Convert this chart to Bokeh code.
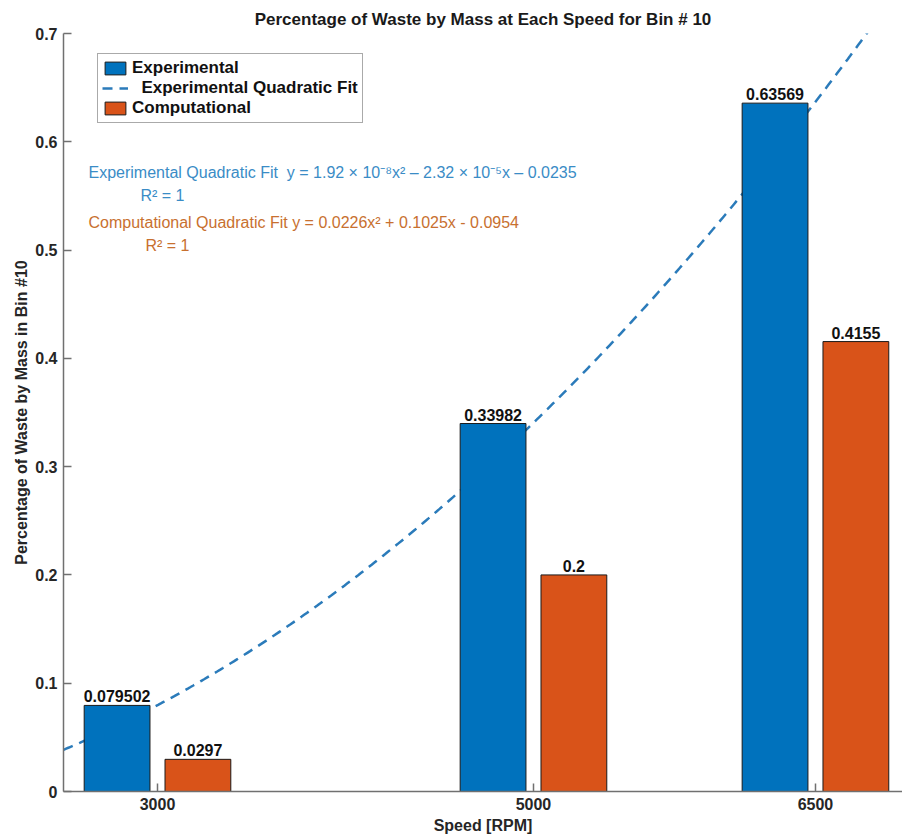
from bokeh.plotting import figure
from bokeh.models import Range1d, Legend, LegendItem, ColumnDataSource, FixedTicker, Label
from bokeh.embed import file_html
from bokeh.resources import INLINE
from bokeh.core.properties import value
import numpy as np

# Data
speeds = [3000, 5000, 6500]
tick_labels = ["3000", "5000", "6500"]
experimental = [0.079502, 0.33982, 0.63569]
computational = [0.0297, 0.2, 0.4155]
# quadratic fit to the experimental series: a*x^2 + b*x + c
exp_fit_coeffs = [1.92e-8, -2.32e-5, -0.0235]

BLUE = "#0072BD"
ORANGE = "#D95319"
FONT = "Liberation Sans"

bar_width = 350
offset = 215

p = figure(width=902, height=839, x_range=Range1d(2500, 6963), y_range=Range1d(0, 0.7),
           output_backend="svg", toolbar_location=None,
           min_border_left=63, min_border_right=0, min_border_top=33, min_border_bottom=48)
p.outline_line_color = None
p.xgrid.visible = False
p.ygrid.visible = False

src = ColumnDataSource(dict(
    x_exp=[s - offset for s in speeds],
    x_comp=[s + offset for s in speeds],
    exp=experimental,
    comp=computational,
    exp_lbl=[format(v, ".5g") for v in experimental],
    comp_lbl=[format(v, ".5g") for v in computational],
))

# fitted curve (drawn first so the bars sit on top of it)
xs = np.linspace(2500, 6800, 300)
a, b, c = exp_fit_coeffs
ys = a * xs**2 + b * xs + c
r_fit = p.line(xs, ys, line_color="#2b7bba", line_width=2.5, line_dash="10 7")

r_exp = p.vbar(x="x_exp", top="exp", width=bar_width, source=src,
               fill_color=BLUE, line_color="#1a1a1a", line_width=1)
r_comp = p.vbar(x="x_comp", top="comp", width=bar_width, source=src,
                fill_color=ORANGE, line_color="#1a1a1a", line_width=1)

# bar value labels
for xcol, ycol, lcol in (("x_exp", "exp", "exp_lbl"), ("x_comp", "comp", "comp_lbl")):
    p.text(x=xcol, y=ycol, text=lcol, source=src, text_align="center",
           text_baseline="bottom", y_offset=-3, text_font=value(FONT),
           text_font_style="bold", text_font_size="16px", text_color="#111111")

# axes
for ax in (p.xaxis, p.yaxis):
    ax.axis_line_color = "#707070"
    ax.axis_line_width = 1.5
    ax.major_tick_line_color = "#707070"
    ax.major_tick_line_width = 1.5
    ax.major_tick_in = 8
    ax.major_tick_out = 0
    ax.minor_tick_line_color = None
    ax.major_label_text_font = FONT
    ax.major_label_text_font_style = "bold"
    ax.major_label_text_font_size = "16px"
    ax.major_label_text_color = "#262626"
    ax.axis_label_text_font = FONT
    ax.axis_label_text_font_style = "bold"
    ax.axis_label_text_font_size = "16px"
    ax.axis_label_text_color = "#262626"

p.xaxis.ticker = FixedTicker(ticks=speeds)
p.xaxis.major_label_overrides = {s: t for s, t in zip(speeds, tick_labels)}
p.xaxis.axis_label = "Speed [RPM]"
p.xaxis.major_label_standoff = 6
p.xaxis.axis_label_standoff = 4

p.yaxis.ticker = FixedTicker(ticks=[0, 0.1, 0.2, 0.3, 0.4, 0.5, 0.6, 0.7])
p.yaxis.major_label_overrides = {0: "0"}
p.yaxis.axis_label = "Percentage of Waste by Mass in Bin #10"
p.yaxis.major_label_standoff = 6
p.yaxis.axis_label_standoff = 2

p.title.text = "Percentage of Waste by Mass at Each Speed for Bin # 10"
p.title.align = "center"
p.title.text_font = FONT
p.title.text_font_size = "17px"
p.title.text_font_style = "bold"
p.title.text_color = "#1a1a1a"

# legend
legend = Legend(items=[
    LegendItem(label="Experimental", renderers=[r_exp]),
    LegendItem(label="\u00a0\u00a0Experimental Quadratic Fit", renderers=[r_fit]),
    LegendItem(label="Computational", renderers=[r_comp]),
], location=(34, 668))
legend.label_text_font = FONT
legend.label_text_font_style = "bold"
legend.label_text_font_size = "17px"
legend.label_text_color = "#111111"
legend.label_height = 18
legend.glyph_height = 16
legend.glyph_width = 26
legend.label_standoff = 4
legend.spacing = 0
legend.padding = 4
legend.margin = 0
legend.border_line_color = "#555555"
legend.border_line_width = 1.5
legend.background_fill_alpha = 1
p.add_layout(legend)

# fit equations
notes = [
    ("Experimental Quadratic Fit\u00a0 y = 1.92 \u00d7 10\u207b\u2078x\u00b2 \u2013 2.32 \u00d7 10\u207b\u2075x \u2013 0.0235", 88, 172, "#3a8cc6"),
    ("R\u00b2 = 1", 140, 195, "#3a8cc6"),
    ("Computational Quadratic Fit y = 0.0226x\u00b2 + 0.1025x - 0.0954", 88, 222, "#c8702f"),
    ("R\u00b2 = 1", 145, 245, "#c8702f"),
]
for txt, sx, sy, col in notes:
    p.add_layout(Label(x=sx - 63, y=791 - sy, x_units="screen", y_units="screen",
                       text=txt, text_font=FONT, text_font_size="16px",
                       text_color=col, text_baseline="middle", text_align="left"))

open("out.html", "w").write(file_html(p, INLINE))
